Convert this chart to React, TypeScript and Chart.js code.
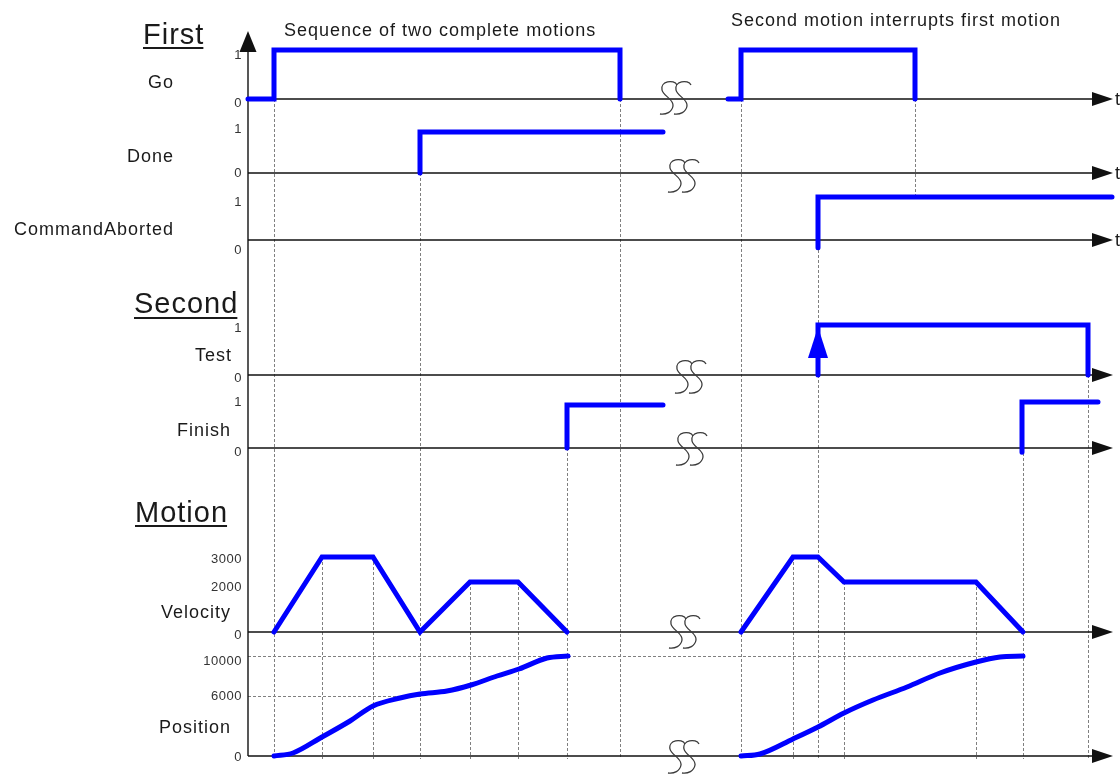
import { useEffect, useRef } from "react";
import { Chart, registerables } from "chart.js";

Chart.register(...registerables);

// ---------------- data (time units from the vertical axis) ----------------
const goTimes1 = [0, 26, 26, 372, 372];
const goValues1 = [0, 0, 1, 1, 0];
const goTimes2 = [480, 493, 493, 667, 667];
const goValues2 = [0, 0, 1, 1, 0];
const doneTimes = [172, 172, 415];
const doneValues = [0, 1, 1];
const abortTimes = [570, 570, 864];
const abortValues = [-0.18, 1, 1];
const testTimes = [570, 570, 840, 840];
const testValues = [0, 1, 1, 0];
const finishTimes1 = [319, 319, 415];
const finishValues1 = [0, 1, 1];
const finishTimes2 = [774, 774, 850];
const finishValues2 = [-0.1, 1.07, 1.07];
const velTimes1 = [26, 74, 125, 172, 222, 270, 319];
const velValues1 = [0, 3000, 3000, 0, 2000, 2000, 0];
const velTimes2 = [493, 545, 570, 596, 728, 775];
const velValues2 = [0, 3000, 3000, 2000, 2000, 0];
const posTimes1 = [26, 45, 74, 102, 125, 152, 172, 199, 223, 249, 271, 299, 320];
const posValues1 = [0, 300, 1900, 3500, 5000, 5800, 6200, 6500, 7100, 8000, 8700, 9800, 10000];
const posTimes2 = [493, 512, 545, 570, 596, 625, 659, 692, 728, 752, 775];
const posValues2 = [0, 200, 1700, 2900, 4300, 5600, 6900, 8300, 9400, 9900, 10000];

const binaryTicks = [0, 1];
const velocityTicks = [0, 2000, 3000];
const positionTicks = [0, 6000, 10000];

const laneNames = ["Go", "Done", "CommandAborted", "Test", "Finish", "Velocity", "Position"];
const groupTitles = ["First", "Second", "Motion"];
const notes = ["Sequence of two complete motions", "Second motion interrupts first motion"];

// vertical guide lines: [time, fromAxis, fromValue]
const guideTimes = [26, 172, 372, 319, 493, 570, 775, 840, 74, 125, 222, 270, 545, 596, 728];
const guideFromAxis = ["yGo", "yDone", "yGo", "yFinish", "yGo", "yAbort", "yFinish", "yTest", "yVel", "yVel", "yVel", "yVel", "yVel", "yVel", "yVel"];
const guideFromValue = [0, 0, 0, 0, 0, 0, 0, 0, 3000, 3000, 2000, 2000, 3000, 2000, 2000];
// interrupt guide (Go fall -> CommandAborted high)
const interruptTime = 667;
// horizontal position guides
const posGuideValues = [10000, 6000];
const posGuideEnds = [777, 173];

// ---------------- layout ----------------
const W = 1120;
const H = 774;
const X_MIN = -248;
const X_MAX = 872;
const AXIS_END = 844;
const ARROW_TIP = 865;
const AXIS_TOP_PX = 31;
const FONT = "'Liberation Sans', Arial, Helvetica, sans-serif";
const BLUE = "#0000ff";

type Lane = {
  id: string; zeroPx: number; refPx: number; refVal: number; ticks: number[]; tickDy: number[];
  name: string; nameX: number; nameY: number; tLabel: boolean; brk: number | null; brkDy: number;
};

const LANES: Lane[] = [
  { id: "yGo", zeroPx: 99, refPx: 50, refVal: 1, ticks: binaryTicks, tickDy: [4, 5], name: laneNames[0], nameX: 174, nameY: 88, tLabel: true, brk: 427, brkDy: -1 },
  { id: "yDone", zeroPx: 173, refPx: 132, refVal: 1, ticks: binaryTicks, tickDy: [0, -3], name: laneNames[1], nameX: 174, nameY: 162, tLabel: true, brk: 435, brkDy: 3 },
  { id: "yAbort", zeroPx: 240, refPx: 197, refVal: 1, ticks: binaryTicks, tickDy: [10, 5], name: laneNames[2], nameX: 174, nameY: 235, tLabel: true, brk: null, brkDy: 0 },
  { id: "yTest", zeroPx: 375, refPx: 325, refVal: 1, ticks: binaryTicks, tickDy: [3, 3], name: laneNames[3], nameX: 232, nameY: 361, tLabel: false, brk: 442, brkDy: 2 },
  { id: "yFinish", zeroPx: 448, refPx: 405, refVal: 1, ticks: binaryTicks, tickDy: [4, -3], name: laneNames[4], nameX: 231, nameY: 436, tLabel: false, brk: 443, brkDy: 1 },
  { id: "yVel", zeroPx: 632, refPx: 557, refVal: 3000, ticks: velocityTicks, tickDy: [3, 5, 2], name: laneNames[5], nameX: 231, nameY: 618, tLabel: false, brk: 436, brkDy: 0 },
  { id: "yPos", zeroPx: 756, refPx: 656, refVal: 10000, ticks: positionTicks, tickDy: [1, 0, 5], name: laneNames[6], nameX: 231, nameY: 733, tLabel: false, brk: 435, brkDy: 1 },
];

const TITLE_POS = [
  { x: 143, y: 44, u: 48 },
  { x: 134, y: 313, u: 318 },
  { x: 135, y: 522, u: 526 },
];
const NOTE_POS = [
  { x: 284, y: 36 },
  { x: 731, y: 26 },
];

function drawS(ctx: CanvasRenderingContext2D, cx: number, cy: number) {
  ctx.beginPath();
  ctx.moveTo(cx + 8, cy - 13);
  ctx.bezierCurveTo(cx + 5, cy - 19, cx - 9, cy - 17, cx - 7, cy - 8);
  ctx.bezierCurveTo(cx - 6, cy - 2, cx + 5, cy + 1, cx + 4, cy + 8);
  ctx.bezierCurveTo(cx + 3, cy + 14, cx - 3, cy + 17, cx - 9, cy + 16);
  ctx.stroke();
}

const diagramPlugin = {
  id: "diagram",
  beforeDatasetsDraw(chart: any) {
    const ctx: CanvasRenderingContext2D = chart.ctx;
    const px = (t: number) => chart.scales.x.getPixelForValue(t);
    const py = (axis: string, v: number) => chart.scales[axis].getPixelForValue(v);
    ctx.save();
    // dashed guides
    ctx.strokeStyle = "#808080";
    ctx.lineWidth = 1;
    ctx.setLineDash([3, 2]);
    const bottom = py("yPos", -300);
    guideTimes.forEach((t, i) => {
      const X = Math.round(px(t)) + 0.5;
      ctx.beginPath();
      ctx.moveTo(X, py(guideFromAxis[i], guideFromValue[i]));
      ctx.lineTo(X, bottom);
      ctx.stroke();
    });
    {
      const X = Math.round(px(interruptTime)) + 0.5;
      ctx.beginPath();
      ctx.moveTo(X, py("yGo", 0));
      ctx.lineTo(X, py("yAbort", 1));
      ctx.stroke();
    }
    posGuideValues.forEach((v, i) => {
      const Y = Math.round(py("yPos", v)) + 0.5;
      ctx.beginPath();
      ctx.moveTo(px(0), Y);
      ctx.lineTo(px(posGuideEnds[i]), Y);
      ctx.stroke();
    });
    ctx.setLineDash([]);
    // axes
    ctx.strokeStyle = "#111";
    ctx.fillStyle = "#111";
    ctx.lineWidth = 1.4;
    for (const l of LANES) {
      const y = py(l.id, 0);
      ctx.beginPath();
      ctx.moveTo(px(0), y);
      ctx.lineTo(px(AXIS_END + 2), y);
      ctx.stroke();
      ctx.beginPath();
      ctx.moveTo(px(AXIS_END), y - 7);
      ctx.lineTo(px(ARROW_TIP), y);
      ctx.lineTo(px(AXIS_END), y + 7);
      ctx.closePath();
      ctx.fill();
    }
    const ax = px(0);
    ctx.beginPath();
    ctx.moveTo(ax, AXIS_TOP_PX + 15);
    ctx.lineTo(ax, py("yPos", 0));
    ctx.stroke();
    ctx.beginPath();
    ctx.moveTo(ax - 8.5, AXIS_TOP_PX + 21);
    ctx.lineTo(ax, AXIS_TOP_PX);
    ctx.lineTo(ax + 8.5, AXIS_TOP_PX + 21);
    ctx.closePath();
    ctx.fill();
    ctx.restore();
  },
  afterDatasetsDraw(chart: any) {
    const ctx: CanvasRenderingContext2D = chart.ctx;
    const px = (t: number) => chart.scales.x.getPixelForValue(t);
    const py = (axis: string, v: number) => chart.scales[axis].getPixelForValue(v);
    ctx.save();
    // Test rising-edge arrowhead
    const tx = px(testTimes[1]);
    const tip = py("yTest", 1) + 2;
    ctx.fillStyle = BLUE;
    ctx.beginPath();
    ctx.moveTo(tx, tip);
    ctx.lineTo(tx + 10, tip + 31);
    ctx.lineTo(tx - 10, tip + 31);
    ctx.closePath();
    ctx.fill();
    // break marks
    ctx.strokeStyle = "#3a3a3a";
    ctx.lineWidth = 1.3;
    for (const l of LANES) {
      if (l.brk === null) continue;
      const cx = px(l.brk);
      const cy = py(l.id, 0) + l.brkDy;
      drawS(ctx, cx - 6, cy);
      drawS(ctx, cx + 8, cy);
    }
    // texts
    (ctx as any).letterSpacing = "1px";
    ctx.fillStyle = "#1a1a1a";
    ctx.textBaseline = "alphabetic";
    ctx.font = `29px ${FONT}`;
    ctx.textAlign = "left";
    groupTitles.forEach((t, i) => {
      const p = TITLE_POS[i];
      ctx.fillText(t, p.x, p.y);
      const w = ctx.measureText(t).width - 1;
      ctx.fillRect(p.x, p.u - 1, w, 2);
    });
    ctx.font = `18px ${FONT}`;
    notes.forEach((t, i) => ctx.fillText(t, NOTE_POS[i].x, NOTE_POS[i].y));
    ctx.textAlign = "right";
    for (const l of LANES) ctx.fillText(l.name, l.nameX, l.nameY);
    ctx.textAlign = "left";
    for (const l of LANES) if (l.tLabel) ctx.fillText("t", px(ARROW_TIP) + 2, py(l.id, 0) + 6);
    (ctx as any).letterSpacing = "0.5px";
    ctx.font = `13px ${FONT}`;
    ctx.fillStyle = "#333";
    ctx.textAlign = "right";
    ctx.textBaseline = "middle";
    for (const l of LANES) {
      l.ticks.forEach((v, i) => {
        ctx.fillText(String(v), 242, py(l.id, v) + l.tickDy[i]);
      });
    }
    ctx.restore();
  },
};

function sig(times: number[], values: number[], axis: string, extra: any = {}) {
  return {
    data: times.map((t, i) => ({ x: t, y: values[i] })),
    yAxisID: axis,
    borderColor: BLUE,
    backgroundColor: BLUE,
    borderWidth: 5,
    pointRadius: 0,
    fill: false,
    clip: false as any,
    borderJoinStyle: "miter",
    borderCapStyle: "round",
    ...extra,
  };
}

export default function App() {
  const ref = useRef<HTMLCanvasElement | null>(null);
  useEffect(() => {
    if (!ref.current) return;
    const scales: any = {
      x: { type: "linear", min: X_MIN, max: X_MAX, display: false, bounds: "data" },
    };
    for (const l of LANES) {
      const range = (H * l.refVal) / (l.zeroPx - l.refPx);
      const max = (l.zeroPx * range) / H;
      scales[l.id] = { type: "linear", display: false, min: max - range, max, bounds: "data" };
    }
    const step = { stepped: true };
    const chart = new Chart(ref.current, {
      type: "line",
      data: {
        datasets: [
          sig(goTimes1, goValues1, "yGo", step),
          sig(goTimes2, goValues2, "yGo", step),
          sig(doneTimes, doneValues, "yDone", step),
          sig(abortTimes, abortValues, "yAbort", step),
          sig(testTimes, testValues, "yTest", step),
          sig(finishTimes1, finishValues1, "yFinish", step),
          sig(finishTimes2, finishValues2, "yFinish", step),
          sig(velTimes1, velValues1, "yVel"),
          sig(velTimes2, velValues2, "yVel"),
          sig(posTimes1, posValues1, "yPos", { cubicInterpolationMode: "monotone" }),
          sig(posTimes2, posValues2, "yPos", { cubicInterpolationMode: "monotone" }),
        ] as any,
      },
      options: {
        responsive: false,
        animation: false,
        devicePixelRatio: 1,
        layout: { padding: 0 },
        plugins: { legend: { display: false }, tooltip: { enabled: false } },
        events: [],
        scales,
      } as any,
      plugins: [diagramPlugin],
    });
    return () => chart.destroy();
  }, []);
  return (
    <div style={{ position: "absolute", left: 0, top: 0, width: W, height: H, background: "#fff" }}>
      <canvas ref={ref} width={W} height={H} style={{ display: "block" }} />
    </div>
  );
}
